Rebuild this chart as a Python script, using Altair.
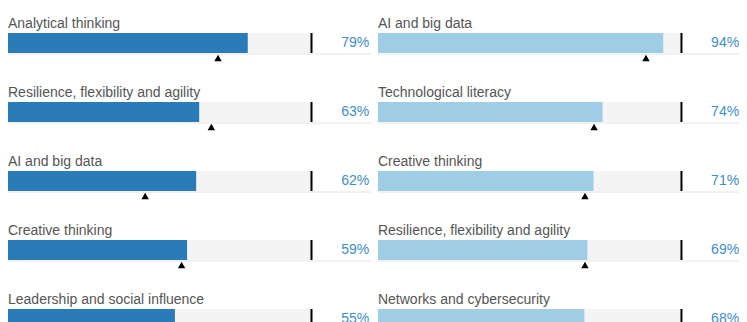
import altair as alt
import pandas as pd

left_skills = ["Analytical thinking", "Resilience, flexibility and agility",
               "AI and big data", "Creative thinking", "Leadership and social influence"]
left_values = [79, 63, 62, 59, 55]
left_markers = [69.2, 67.0, 45.2, 57.2, 60.0]

right_skills = ["AI and big data", "Technological literacy", "Creative thinking",
                "Resilience, flexibility and agility", "Networks and cybersecurity"]
right_values = [94, 74, 71, 69, 68]
right_markers = [88.3, 71.2, 68.2, 68.2, 66.0]

rows = []
for panel, (skills, vals, marks) in enumerate(
        [(left_skills, left_values, left_markers),
         (right_skills, right_values, right_markers)]):
    for i, (s, v, m) in enumerate(zip(skills, vals, marks)):
        rows.append(dict(panel=panel, rank=i + 1, skill=s, value=v,
                         marker=m, pct=f"{v}%"))
df = pd.DataFrame(rows)

W = 731
H = 314
PX = 3.035         # pixels per percentage point
OFF = 121.9        # offset of the second column, in scale units
STEP = 69.0
FIRST = 35.0
d0 = 1 - FIRST / STEP
d1 = d0 + H / STEP

FONT = "Liberation Sans"
DARK = "#2a7cb8"
LIGHT = "#a0cde6"
PCT = "#3d8ecb"

xs = alt.Scale(domain=[0, W / PX], nice=False, zero=False)
ys = alt.Scale(domain=[d0, d1], nice=False, zero=False, reverse=True)

base = alt.Chart(df).transform_calculate(
    x0=f"datum.panel * {OFF}",
    xv=f"datum.panel * {OFF} + datum.value",
    xm=f"datum.panel * {OFF} + datum.marker",
    x100=f"datum.panel * {OFF} + 100",
    xend=f"datum.panel * {OFF} + 119.6",
    xtxt=f"datum.panel * {OFF} + 119.0",
)

Y = alt.Y("rank:Q", scale=ys, axis=None)

track = base.mark_rule(strokeWidth=20, color="#f4f4f4", strokeCap="butt").encode(
    x=alt.X("x0:Q", scale=xs, axis=None), x2="x100:Q", y=Y)

baseline = base.mark_rule(strokeWidth=1.5, color="#ececec", strokeCap="butt", yOffset=11).encode(
    x=alt.X("x0:Q", scale=xs, axis=None), x2="xend:Q", y=Y)

bars = base.mark_rule(strokeWidth=20, strokeCap="butt").encode(
    x=alt.X("x0:Q", scale=xs, axis=None), x2="xv:Q", y=Y,
    color=alt.Color("panel:N", scale=alt.Scale(domain=[0, 1], range=[DARK, LIGHT]), legend=None))

ticks = base.mark_tick(orient="vertical", size=20, thickness=2, color="black", opacity=1).encode(
    x=alt.X("x100:Q", scale=xs, axis=None), y=Y)

markers = base.mark_point(shape="triangle-up", filled=True, color="black", size=55,
                          opacity=1, yOffset=15).encode(
    x=alt.X("xm:Q", scale=xs, axis=None), y=Y)

labels = base.mark_text(align="left", baseline="alphabetic", dy=-15, fontSize=14,
                        font=FONT, color="#555555").encode(
    x=alt.X("x0:Q", scale=xs, axis=None), y=Y, text="skill:N")

pcts = base.mark_text(align="right", baseline="alphabetic", dy=4, fontSize=14,
                      font=FONT, color=PCT).encode(
    x=alt.X("xtxt:Q", scale=xs, axis=None), y=Y, text="pct:N")

chart = alt.layer(track, baseline, bars, ticks, markers, labels, pcts).properties(
    width=W, height=H, padding=0,
    autosize=alt.AutoSizeParams(type="none"),
).configure_view(stroke=None)

chart.save("out.html", embed_options={"renderer": "svg", "actions": False})
